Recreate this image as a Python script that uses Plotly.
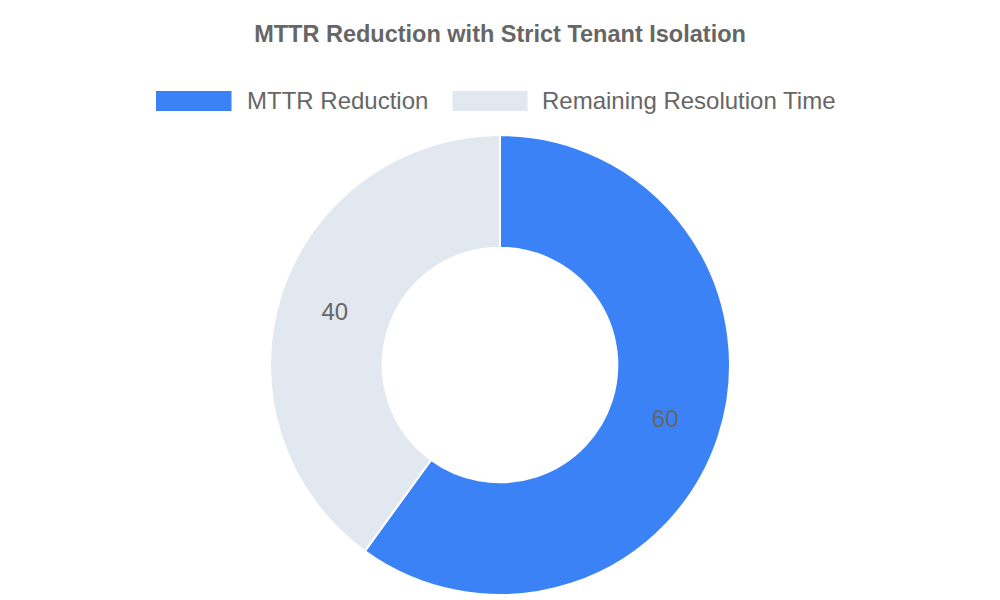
import plotly.graph_objects as go

title_text = "MTTR Reduction with Strict Tenant Isolation"
labels = ["MTTR Reduction", "Remaining Resolution Time"]
values = [60, 40]
colors = ["#3B82F6", "#E2E8F0"]

W, H = 1000, 600
OFF = 8  # page body margin of the rendered html
FONT = "Liberation Sans, Arial, sans-serif"
TEXT_COLOR = "#666666"

fig = go.Figure(
    go.Pie(
        labels=labels,
        values=values,
        hole=0.51,
        sort=False,
        direction="clockwise",
        rotation=0,
        marker=dict(colors=colors, line=dict(color="#ffffff", width=2)),
        textinfo="value",
        textposition="inside",
        insidetextorientation="horizontal",
        textfont=dict(family=FONT, size=24, color=TEXT_COLOR),
        showlegend=False,
        domain=dict(x=[0, (1000 - 2 * OFF) / W], y=[(600 - 595 + OFF) / H, (600 - 135 + OFF) / H]),
    )
)

# custom legend (Chart.js style wide boxes)
legend_rects = [(156, 231.5), (452.5, 527.5)]
legend_text_x = [245, 540]
shapes, annos = [], []
for (x0, x1), tx, lab, col in zip(legend_rects, legend_text_x, labels, colors):
    shapes.append(dict(type="rect", xref="paper", yref="paper",
                       x0=(x0 - OFF) / W, x1=(x1 - OFF) / W,
                       y0=1 - (111 - OFF) / H, y1=1 - (91 - OFF) / H,
                       fillcolor=col, line=dict(width=0)))
    annos.append(dict(text=lab, xref="paper", yref="paper", x=(tx - OFF) / W, y=1 - (100 - OFF) / H,
                      xanchor="left", yanchor="middle", showarrow=False,
                      font=dict(family=FONT, size=24, color=TEXT_COLOR)))

fig.update_layout(
    width=W, height=H,
    margin=dict(l=0, r=0, t=0, b=0),
    paper_bgcolor="white", plot_bgcolor="white",
    title=dict(text=f"<b>{title_text}</b>", x=(500 - OFF) / W, xanchor="center",
               y=1 - (34 - OFF) / H, yanchor="middle", yref="container",
               font=dict(family=FONT, size=23.5, color=TEXT_COLOR)),
    shapes=shapes, annotations=annos,
)

fig.write_html("out.html")
